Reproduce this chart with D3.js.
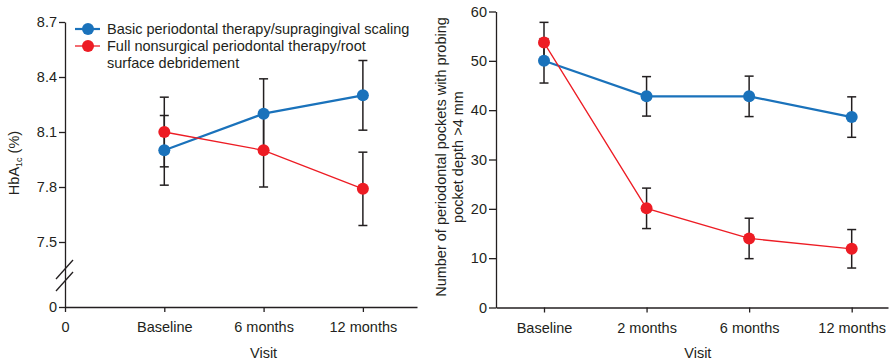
<!DOCTYPE html>
<html>
<head>
<meta charset="utf-8">
<script src="https://cdn.jsdelivr.net/npm/d3@7"></script>
<style>
  html, body { margin: 0; padding: 0; background: #fff; }
  svg { display: block; font-family: "Liberation Sans", Arial, sans-serif; }
  .axis text { font-size: 14.5px; fill: #231f20; font-family: "Liberation Sans", Arial, sans-serif; }
  .axis path, .axis line { stroke: #231f20; stroke-width: 1.3; }
</style>
</head>
<body>
<svg id="chart" width="889" height="362"></svg>
<script>
// ---------- Data ----------
const seriesNames = [
  "Basic periodontal therapy/supragingival scaling",
  "Full nonsurgical periodontal therapy/root",
  "surface debridement"
];
const leftTickLabels = ["0", "Baseline", "6 months", "12 months"];
const leftYTicks = [0, 7.5, 7.8, 8.1, 8.4, 8.7];
const hbaBasic = [8.0, 8.2, 8.3];
const hbaBasicErr = [0.19, 0.19, 0.19];
const hbaFull = [8.1, 8.0, 7.79];
const hbaFullErr = [0.19, 0.2, 0.2];

const rightTickLabels = ["Baseline", "2 months", "6 months", "12 months"];
const rightYTicks = [0, 10, 20, 30, 40, 50, 60];
const ppdBasic = [50, 42.8, 42.8, 38.6];
const ppdBasicErr = [4.5, 4.0, 4.1, 4.1];
const ppdFull = [53.7, 20.1, 14.0, 11.9];
const ppdFullErr = [4.1, 4.1, 4.1, 3.9];

const BLUE = "#1a72bb", RED = "#ed1c24", INK = "#231f20";
const FS = 14.5;

const svg = d3.select("#chart");

function errorBars(x, y, vals, errs, offset) {
  const g = svg.append("g").attr("stroke", INK).attr("stroke-width", 1.5);
  vals.forEach((v, i) => {
    const cx = x(i + offset);
    g.append("line").attr("x1", cx).attr("x2", cx).attr("y1", y(v - errs[i])).attr("y2", y(v + errs[i]));
    [v - errs[i], v + errs[i]].forEach(e => {
      g.append("line").attr("x1", cx - 4.5).attr("x2", cx + 4.5).attr("y1", y(e)).attr("y2", y(e));
    });
  });
}
function seriesLine(x, y, vals, color, lw, offset) {
  svg.append("path")
    .datum(vals)
    .attr("fill", "none").attr("stroke", color).attr("stroke-width", lw)
    .attr("d", d3.line().x((d, i) => x(i + offset)).y(d => y(d)));
}
function seriesDots(x, y, vals, color, offset) {
  svg.append("g").selectAll("circle").data(vals).join("circle")
    .attr("cx", (d, i) => x(i + offset)).attr("cy", d => y(d)).attr("r", 6)
    .attr("fill", color);
}

// ---------- Left panel ----------
const xL = d3.scaleLinear().domain([0, 3.545]).range([65, 417]);
const yL = d3.scaleLinear().domain([0, 7.5, 8.7]).range([307, 242, 22]);

svg.append("g").attr("class", "axis")
  .attr("transform", `translate(0,${yL(0)})`)
  .call(d3.axisBottom(xL).tickValues([0, 1, 2, 3]).tickSize(5).tickSizeOuter(0).tickPadding(10)
    .tickFormat((d, i) => leftTickLabels[i]));

svg.append("g").attr("class", "axis")
  .attr("transform", `translate(${xL(0)},0)`)
  .call(d3.axisLeft(yL).tickValues(leftYTicks).tickSize(6).tickSizeOuter(0).tickPadding(2)
    .tickFormat(d => d === 0 ? "0" : d.toFixed(1)));

// axis break marks
const brk = svg.append("g").attr("stroke", INK).attr("stroke-width", 1.3);
[0, 12].forEach(off => {
  brk.append("line")
    .attr("x1", xL(0) - 9).attr("y1", 279 + off)
    .attr("x2", xL(0) + 8).attr("y2", 260 + off);
});

svg.append("text").attr("x", xL(2)).attr("y", 358)
  .attr("text-anchor", "middle").attr("font-size", FS).attr("fill", INK).text("Visit");

const hbLabel = svg.append("text")
  .attr("transform", `translate(19,163) rotate(-90)`)
  .attr("text-anchor", "middle").attr("font-size", FS).attr("fill", INK);
hbLabel.append("tspan").text("HbA");
hbLabel.append("tspan").attr("font-size", 9).attr("dy", 3).text("1c");
hbLabel.append("tspan").attr("dy", -3).text(" (%)");

errorBars(xL, yL, hbaBasic, hbaBasicErr, 1);
errorBars(xL, yL, hbaFull, hbaFullErr, 1);
seriesLine(xL, yL, hbaBasic, BLUE, 2.2, 1);
seriesDots(xL, yL, hbaBasic, BLUE, 1);
seriesLine(xL, yL, hbaFull, RED, 1.3, 1);
seriesDots(xL, yL, hbaFull, RED, 1);

// legend
const lg = svg.append("g");
[[BLUE, 2.2, 29], [RED, 1.3, 46]].forEach(([c, w, yy]) => {
  lg.append("line").attr("x1", 75).attr("x2", 100).attr("y1", yy).attr("y2", yy)
    .attr("stroke", c).attr("stroke-width", w);
  lg.append("circle").attr("cx", 88).attr("cy", yy).attr("r", 6).attr("fill", c);
});
seriesNames.forEach((t, i) => {
  lg.append("text").attr("x", 107).attr("y", 34 + i * 17)
    .attr("font-size", FS).attr("fill", INK).text(t);
});

// ---------- Right panel ----------
const xR = d3.scaleLinear().domain([-0.468, 3.354]).range([496, 888]);
const yR = d3.scaleLinear().domain([0, 60]).range([307.5, 11.5]);

svg.append("g").attr("class", "axis")
  .attr("transform", `translate(0,${yR(0)})`)
  .call(d3.axisBottom(xR).tickValues([0, 1, 2, 3]).tickSize(5).tickSizeOuter(0).tickPadding(10)
    .tickFormat((d, i) => rightTickLabels[i]));

svg.append("g").attr("class", "axis")
  .attr("transform", `translate(${xR(-0.468)},0)`)
  .call(d3.axisLeft(yR).tickValues(rightYTicks).tickSize(7).tickSizeOuter(0).tickPadding(2));

svg.append("text").attr("x", xR(1.5)).attr("y", 358)
  .attr("text-anchor", "middle").attr("font-size", FS).attr("fill", INK).text("Visit");

const rl = svg.append("text")
  .attr("transform", `rotate(-90)`)
  .attr("text-anchor", "middle").attr("font-size", FS).attr("fill", INK);
rl.append("tspan").attr("x", -157).attr("y", 446).text("Number of periodontal pockets with probing");
rl.append("tspan").attr("x", -157).attr("y", 463).text("pocket depth >4 mm");

errorBars(xR, yR, ppdBasic, ppdBasicErr, 0);
errorBars(xR, yR, ppdFull, ppdFullErr, 0);
seriesLine(xR, yR, ppdBasic, BLUE, 2.2, 0);
seriesDots(xR, yR, ppdBasic, BLUE, 0);
seriesLine(xR, yR, ppdFull, RED, 1.3, 0);
seriesDots(xR, yR, ppdFull, RED, 0);
</script>
</body>
</html>
